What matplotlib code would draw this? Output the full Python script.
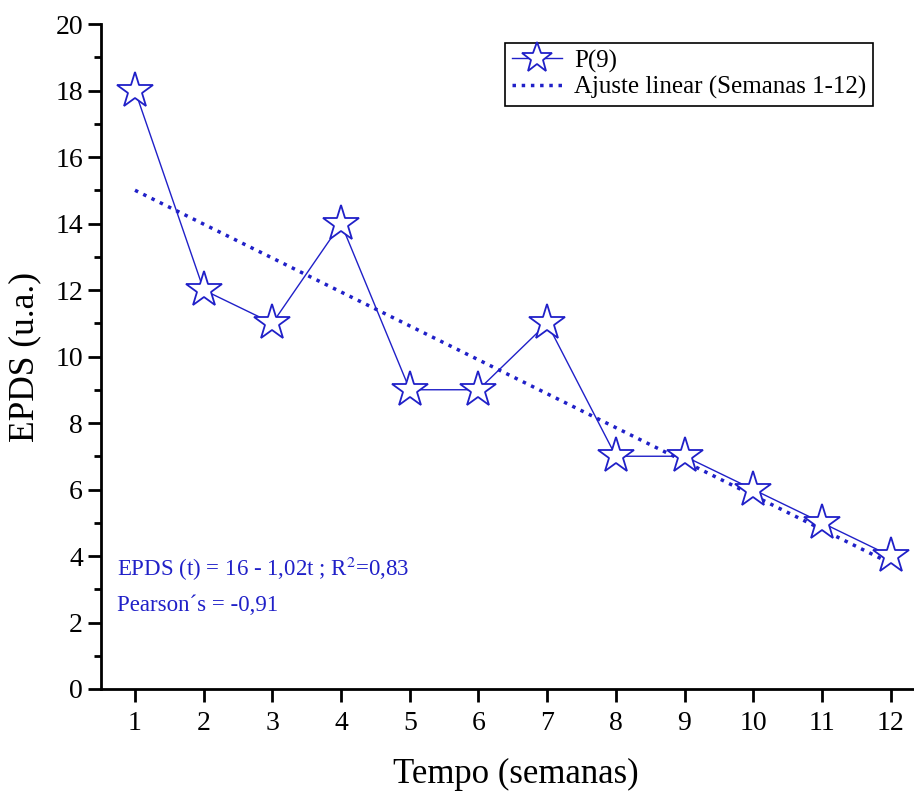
import numpy as np
import matplotlib.pyplot as plt
from matplotlib import rcParams
from matplotlib.ticker import MultipleLocator

rcParams['font.family'] = ['Liberation Serif', 'DejaVu Serif']
rcParams['mathtext.fontset'] = 'stix'

# data
semanas = [1, 2, 3, 4, 5, 6, 7, 8, 9, 10, 11, 12]
epds = [18, 12, 11, 14, 9, 9, 11, 7, 7, 6, 5, 4]
fit_x = [1, 12]
fit_y = [15.0, 3.78]

blue = '#2020c8'

fig = plt.figure(figsize=(9.14, 7.91), dpi=100)
ax = fig.add_axes([101 / 914, 102 / 791, 813 / 914, 665 / 791])

ax.plot(semanas, epds, '-', color=blue, lw=1.0, marker='*', ms=27,
        mfc='white', mec=blue, mew=1.3, label='P(9)', zorder=3)
ax.plot(fit_x, fit_y, ':', color=blue, lw=2.5,
        label='Ajuste linear (Semanas 1-12)', zorder=2)

ax.set_xlim(0.505, 12.34)
ax.set_ylim(0, 20)
ax.set_xticks(semanas)
ax.yaxis.set_major_locator(MultipleLocator(2))
ax.yaxis.set_minor_locator(MultipleLocator(1))
ax.tick_params(axis='both', which='major', direction='out', length=9.5, width=2,
               labelsize=20)
ax.tick_params(axis='x', which='major', pad=6)
ax.tick_params(axis='y', which='minor', direction='out', length=5, width=2)
for s in ['top', 'right']:
    ax.spines[s].set_visible(False)
for s in ['left', 'bottom']:
    ax.spines[s].set_linewidth(2)

ax.set_xlabel('Tempo (semanas)', fontsize=25, labelpad=16)
ax.xaxis.label.set_x(0.51)
ax.set_ylabel('EPDS (u.a.)', fontsize=25.5, labelpad=10)

ax.text(0.02, 0.18, 'EPDS (t) = 16 - 1,02t ; R$^2$=0,83', transform=ax.transAxes,
        fontsize=16.5, color=blue, va='center')
ax.text(0.02, 0.125, 'Pearson\u00b4s = -0,91', transform=ax.transAxes,
        fontsize=16.5, color=blue, va='center')

leg = ax.legend(loc='upper right', bbox_to_anchor=(0.949, 0.971), fontsize=18,
                frameon=True, fancybox=False, edgecolor='black',
                framealpha=1, handlelength=2.0, borderpad=0.25,
                labelspacing=0.15, handletextpad=0.5, markerscale=0.85,
                borderaxespad=0)
leg.get_frame().set_linewidth(1.2)

fig.savefig('out.png', dpi=100)
